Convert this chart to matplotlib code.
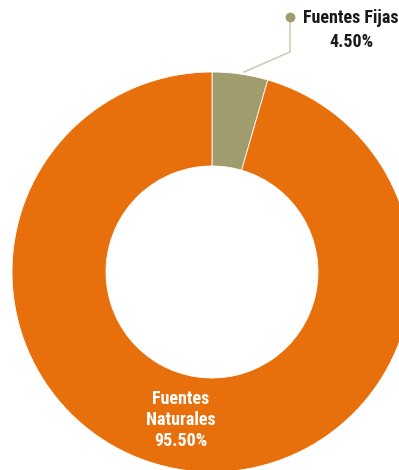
import matplotlib.pyplot as plt
from matplotlib import font_manager

labels = ['Fuentes Fijas', 'Fuentes Naturales']
shares = [4.50, 95.50]
colors = ['#A09C6E', '#E8700C']

names = {f.name for f in font_manager.fontManager.ttflist}
font = 'DejaVu Sans'
for cand in ['Roboto Condensed', 'Liberation Sans Narrow', 'Open Sans Condensed', 'DejaVu Sans Condensed']:
    if cand in names:
        font = cand
        break
plt.rcParams['font.family'] = [font, 'DejaVu Sans']
plt.rcParams['font.stretch'] = 'condensed'

W, H = 399, 470
cx, cy, r = 212, 272, 200

fig = plt.figure(figsize=(W / 100, H / 100), dpi=100)
ax = fig.add_axes([0, 0, 1, 1])

wedges, _ = ax.pie(shares, colors=colors, startangle=90, counterclock=False,
                   radius=1.0, wedgeprops=dict(width=0.47, edgecolor='white', linewidth=0.6))
ax.set_xlim(-cx / r, (W - cx) / r)
ax.set_ylim(-(H - cy) / r, cy / r)
ax.set_aspect('equal', adjustable='datalim')
ax.axis('off')

# leader for the small slice
px = lambda x: (x - cx) / r
py = lambda y: (cy - y) / r
ax.plot([px(244), px(290), px(290)], [py(72), py(52), py(17)],
        color='#CFCDBD', lw=1.2, zorder=3)
ax.plot(px(290), py(17), 'o', color=colors[0], ms=6, zorder=4)
ax.text(px(303), py(18), labels[0], ha='left', va='center',
        fontsize=13, fontweight='bold', color='#1a1a1a')
ax.text(px(351), py(42), f'{shares[0]:.2f}%', ha='center', va='center',
        fontsize=13, fontweight='bold', color='#1a1a1a')

ax.text(px(181), py(420), 'Fuentes\nNaturales\n' + f'{shares[1]:.2f}%',
        ha='center', va='center', fontsize=13, fontweight='bold',
        color='white', linespacing=1.25)

fig.savefig('out.png', dpi=100)
